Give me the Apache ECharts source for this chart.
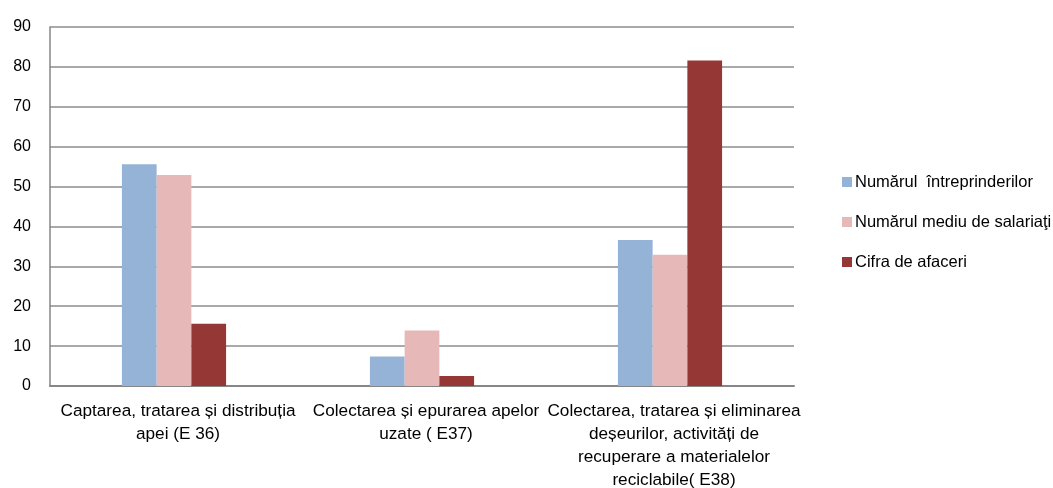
<!DOCTYPE html>
<html>
<head>
<meta charset="utf-8">
<script src="https://cdn.jsdelivr.net/npm/echarts@6/dist/echarts.min.js"></script>
<style>
  html, body { margin: 0; padding: 0; background: #fff; }
  #chart { width: 1053px; height: 488px; }
</style>
</head>
<body>
<div id="chart"></div>
<script>
// Activity groups (CAEN divisions E36–E38)
const categories = [
  'Captarea, tratarea și distribuția\napei (E 36)',
  'Colectarea și epurarea apelor\nuzate ( E37)',
  'Colectarea, tratarea și eliminarea\ndeșeurilor, activități de\nrecuperare a materialelor\nreciclabile( E38)'
];
const seriesNames = ['Numărul  întreprinderilor', 'Numărul mediu de salariaţi', 'Cifra de afaceri'];
const intreprinderi = [55.6, 7.4, 36.6];
const salariati = [52.9, 13.9, 32.9];
const cifraAfaceri = [15.6, 2.5, 81.6];
const yTicks = { min: 0, max: 90, interval: 10 };

const colors = ['#95B3D7', '#E6B9B8', '#953735'];
const font = '"Liberation Sans", Arial, sans-serif';

const chart = echarts.init(document.getElementById('chart'), null, { renderer: 'canvas' });
chart.setOption({
  animation: false,
  textStyle: { fontFamily: font, color: '#000' },
  grid: { left: 50, right: 259, top: 27, bottom: 102, containLabel: false, outerBoundsMode: 'none' },
  legend: {
    orient: 'vertical',
    left: 837,
    top: 168,
    itemWidth: 10,
    itemHeight: 10,
    itemGap: 22,
    icon: 'rect',
    textStyle: { fontFamily: font, fontSize: 16.5, lineHeight: 18, color: '#000', padding: [0, 0, 0, -2] },
    data: seriesNames
  },
  xAxis: {
    type: 'category',
    data: categories,
    axisLine: { lineStyle: { color: '#868686', width: 2 } },
    axisTick: { show: false },
    axisLabel: {
      interval: 0,
      margin: 14,
      fontFamily: font,
      fontSize: 17.2,
      lineHeight: 22.8,
      padding: [0, 0, 0, 8],
      color: '#000'
    }
  },
  yAxis: {
    type: 'value',
    min: yTicks.min,
    max: yTicks.max,
    interval: yTicks.interval,
    axisLine: { show: true, lineStyle: { color: '#868686', width: 1.5 } },
    axisTick: { show: false },
    axisLabel: { margin: 19, fontFamily: font, fontSize: 16, color: '#000' },
    splitLine: { lineStyle: { color: '#8c8c8c', width: 1.5 } }
  },
  series: [
    { name: seriesNames[0], type: 'bar', data: intreprinderi, itemStyle: { color: colors[0] }, barGap: '0%', barCategoryGap: '58%' },
    { name: seriesNames[1], type: 'bar', data: salariati, itemStyle: { color: colors[1] }, barGap: '0%', barCategoryGap: '58%' },
    { name: seriesNames[2], type: 'bar', data: cifraAfaceri, itemStyle: { color: colors[2] }, barGap: '0%', barCategoryGap: '58%' }
  ]
});
</script>
</body>
</html>
